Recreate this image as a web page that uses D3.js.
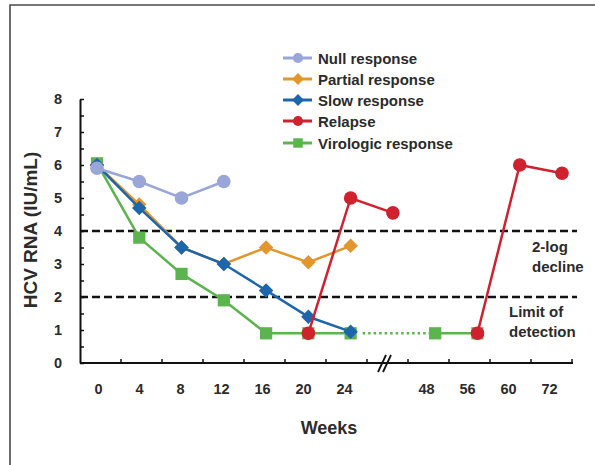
<!DOCTYPE html>
<html>
<head>
<meta charset="utf-8">
<script src="https://cdn.jsdelivr.net/npm/d3@7"></script>
<style>
  body { margin: 0; background: #fff; }
  text { font-family: "Liberation Sans", Arial, sans-serif; font-weight: bold; fill: #2b2b2b; }
</style>
</head>
<body>
<script>
// categories along x ("brk" is the axis break slot)
var weeks = ["0", "4", "8", "12", "16", "20", "24", "brk", "48", "56", "60", "72"];
var weekLabels = ["0", "4", "8", "12", "16", "20", "24", "", "48", "56", "60", "72"];
var yTicks = [0, 1, 2, 3, 4, 5, 6, 7, 8];

// series values (log10 IU/mL), null = no point
var nullResponse    = [5.9, 5.5, 5.0, 5.5, null, null, null, null, null, null, null, null];
var partialResponse = [6.0, 4.8, 3.5, 3.0, 3.5, 3.05, 3.55, null, null, null, null, null];
var slowResponse    = [6.0, 4.7, 3.5, 3.0, 2.2, 1.4, 0.95, null, null, null, null, null];
var relapse         = [null, null, null, null, null, 0.9, 5.0, 4.55, null, 0.9, 6.0, 5.75];
var virologic       = [6.05, 3.8, 2.7, 1.9, 0.9, 0.9, 0.9, null, 0.9, 0.9, null, null];

var refLines = [4, 2];

var W = 595, H = 465;

var svg = d3.select("body").append("svg")
    .attr("width", W)
    .attr("height", H);

// frame (top and left only)
svg.append("path")
    .attr("d", "M10,465 L10,5 L595,5")
    .attr("fill", "none")
    .attr("stroke", "#4a4a4a")
    .attr("stroke-width", 1.6);

// scales
var xAxisScale = d3.scaleBand().domain(weeks).range([80, 572]);
var x = d3.scalePoint().domain(weeks).range([97, 562]);
var y = d3.scaleLinear().domain([0, 8]).range([363, 99]);

// reference dashed lines
svg.selectAll(".ref")
    .data(refLines)
  .enter().append("line")
    .attr("class", "ref")
    .attr("x1", 80).attr("x2", 577)
    .attr("y1", function(d) { return y(d); })
    .attr("y2", function(d) { return y(d); })
    .attr("stroke", "#111")
    .attr("stroke-width", 2.5)
    .attr("stroke-dasharray", "8,4");

// y axis
var yAxis = svg.append("g")
    .attr("transform", "translate(80,0)")
    .call(d3.axisRight(y).tickValues(d3.range(0, 8.01, 0.5)).tickSize(4).tickSizeOuter(0).tickFormat(""));
yAxis.select(".domain").attr("stroke", "#111").attr("stroke-width", 2);
yAxis.selectAll(".tick line").attr("stroke", "#111").attr("stroke-width", 1.5);

svg.selectAll(".ylab")
    .data(yTicks)
  .enter().append("text")
    .attr("class", "ylab")
    .attr("x", 58)
    .attr("y", function(d) { return y(d) + 5; })
    .attr("text-anchor", "middle")
    .style("font-size", "14.5px")
    .text(function(d) { return d; });

// x axis
var xg = svg.append("g");
xg.append("line")
    .attr("x1", 80).attr("x2", 573)
    .attr("y1", 363).attr("y2", 363)
    .attr("stroke", "#111").attr("stroke-width", 2);
xg.selectAll(".xtick")
    .data(weeks.slice(1).concat(["end"]))
  .enter().append("line")
    .attr("class", "xtick")
    .attr("x1", function(d) { return d === "end" ? 572 : xAxisScale(d); })
    .attr("x2", function(d) { return d === "end" ? 572 : xAxisScale(d); })
    .attr("y1", 363).attr("y2", 359)
    .attr("stroke", "#111").attr("stroke-width", 1.5);

// axis break mark
var bx = xAxisScale("brk") + xAxisScale.bandwidth() / 2 - 3;
[-2.5, 2.5].forEach(function(o) {
  xg.append("line")
      .attr("x1", bx + o - 4).attr("y1", 372)
      .attr("x2", bx + o + 4).attr("y2", 355)
      .attr("stroke", "#111").attr("stroke-width", 1.8);
});

svg.selectAll(".xlab")
    .data(weeks)
  .enter().append("text")
    .attr("class", "xlab")
    .attr("x", function(d) { return xAxisScale(d) + xAxisScale.bandwidth() / 2 - 2; })
    .attr("y", 394)
    .attr("text-anchor", "middle")
    .style("font-size", "14.5px")
    .text(function(d, i) { return weekLabels[i]; });

// axis titles
svg.append("text")
    .attr("x", 329).attr("y", 434)
    .attr("text-anchor", "middle")
    .style("font-size", "18px")
    .text("Weeks");

svg.append("text")
    .attr("transform", "translate(37,230) rotate(-90)")
    .attr("text-anchor", "middle")
    .style("font-size", "19px")
    .text("HCV RNA (IU/mL)");

// annotations
var notes = [["2-log", 532, 252], ["decline", 532, 272], ["Limit of", 509, 317], ["detection", 509, 337]];
svg.selectAll(".note")
    .data(notes)
  .enter().append("text")
    .attr("class", "note")
    .attr("x", function(d) { return d[1]; })
    .attr("y", function(d) { return d[2]; })
    .style("font-size", "15px")
    .text(function(d) { return d[0]; });

// series
var series = [
  {name: "Virologic response", values: virologic, color: "#5cb44e", shape: "square"},
  {name: "Partial response", values: partialResponse, color: "#e3952e", shape: "diamond"},
  {name: "Slow response", values: slowResponse, color: "#1e66ac", shape: "diamond"},
  {name: "Relapse", values: relapse, color: "#d0222e", shape: "circle"},
  {name: "Null response", values: nullResponse, color: "#9aa6d8", shape: "circle"}
];

var line = d3.line()
    .defined(function(d) { return d.v != null; })
    .x(function(d) { return x(d.w); })
    .y(function(d) { return y(d.v); });

// diamonds are squares turned 45 degrees
function symbolPath(shape, big) {
  var t = shape === "circle" ? d3.symbolCircle : d3.symbolSquare;
  var s = shape === "square" ? (big ? 150 : 90) : shape === "diamond" ? (big ? 105 : 70) : (big ? 145 : 80);
  return d3.symbol().type(t).size(s)();
}
function rot(shape) { return shape === "diamond" ? " rotate(45)" : ""; }

// dotted continuation of virologic response across the break
svg.append("line")
    .attr("x1", x("24") + 12).attr("x2", x("48") - 6)
    .attr("y1", y(0.9)).attr("y2", y(0.9))
    .attr("stroke", "#5cb44e")
    .attr("stroke-width", 2.5)
    .attr("stroke-dasharray", "2.5,3");

series.forEach(function(s) {
  var pts = weeks.map(function(w, i) { return {w: w, v: s.values[i]}; });
  svg.append("path")
      .datum(pts)
      .attr("fill", "none")
      .attr("stroke", s.color)
      .attr("stroke-width", 2.5)
      .attr("d", line);
  svg.selectAll(null)
      .data(pts.filter(function(d) { return d.v != null; }))
    .enter().append("path")
      .attr("transform", function(d) { return "translate(" + x(d.w) + "," + y(d.v) + ")" + rot(s.shape); })
      .attr("d", symbolPath(s.shape, true))
      .attr("fill", s.color);
});

// legend
var legendOrder = ["Null response", "Partial response", "Slow response", "Relapse", "Virologic response"];
var legendY = [58, 79, 100, 121, 143];
legendOrder.forEach(function(name, i) {
  var s = series.filter(function(d) { return d.name === name; })[0];
  var g = svg.append("g").attr("transform", "translate(0," + legendY[i] + ")");
  g.append("line")
      .attr("x1", 283).attr("x2", 312)
      .attr("stroke", s.color).attr("stroke-width", 3);
  g.append("path")
      .attr("transform", "translate(298,0)" + rot(s.shape))
      .attr("d", symbolPath(s.shape, false))
      .attr("fill", s.color);
  g.append("text")
      .attr("x", 318).attr("y", 5.5)
      .style("font-size", "15px")
      .text(name);
});
</script>
</body>
</html>
